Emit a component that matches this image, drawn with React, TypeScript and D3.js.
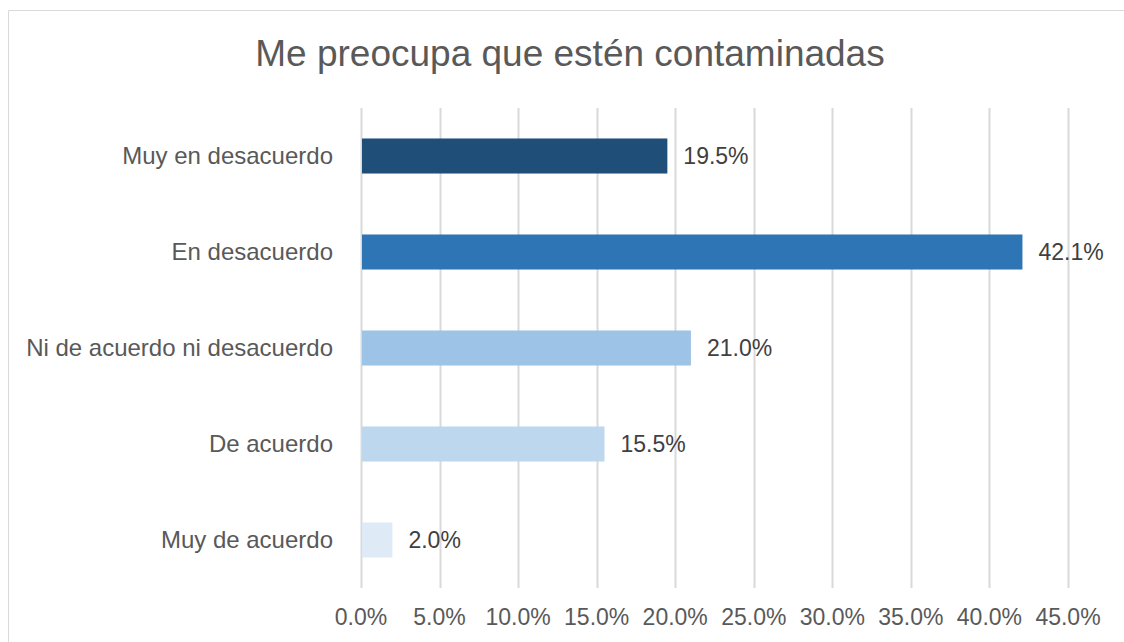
import { useEffect, useRef } from "react";
import * as d3 from "d3";

const title = "Me preocupa que estén contaminadas";
const categories = [
  "Muy en desacuerdo",
  "En desacuerdo",
  "Ni de acuerdo ni desacuerdo",
  "De acuerdo",
  "Muy de acuerdo",
];
const values = [19.5, 42.1, 21.0, 15.5, 2.0];
const barColors = ["#1F4E79", "#2E75B6", "#9DC3E6", "#BDD7EE", "#DEEBF7"];
const xTicks = [0, 5, 10, 15, 20, 25, 30, 35, 40, 45];

const App = () => {
  const svgRef = useRef<SVGSVGElement>(null);

  useEffect(() => {
    const svg = d3.select(svgRef.current);
    svg.selectAll("*").remove();

    const width = 1124;
    const height = 642;
    const margin = { top: 108, left: 361, right: 56, bottom: 54 };
    const font = "'Liberation Sans', Arial, sans-serif";

    svg.attr("width", width).attr("height", height);

    svg
      .append("rect")
      .attr("width", width)
      .attr("height", height)
      .attr("fill", "#fff");

    // chart border: only top and left edges are inside the crop
    svg
      .append("path")
      .attr("d", `M8.5,${height}V10.5H${width}`)
      .attr("fill", "none")
      .attr("stroke", "#d9d9d9")
      .attr("stroke-width", 1);

    const x = d3
      .scaleLinear()
      .domain([0, 45])
      .range([margin.left, width - margin.right]);

    const y = d3
      .scaleBand()
      .domain(categories)
      .range([margin.top, height - margin.bottom])
      .paddingInner(0.635)
      .paddingOuter(0.3175);

    svg
      .append("g")
      .selectAll("line")
      .data(xTicks)
      .enter()
      .append("line")
      .attr("x1", (d) => Math.round(x(d)) + 0.5)
      .attr("x2", (d) => Math.round(x(d)) + 0.5)
      .attr("y1", margin.top)
      .attr("y2", height - margin.bottom)
      .attr("stroke", "#d9d9d9")
      .attr("stroke-width", 2);

    svg
      .append("g")
      .selectAll("rect")
      .data(values)
      .enter()
      .append("rect")
      .attr("x", x(0) + 1)
      .attr("y", (d, i) => y(categories[i])!)
      .attr("width", (d) => x(d) - x(0) - 1)
      .attr("height", y.bandwidth())
      .attr("fill", (d, i) => barColors[i]);

    svg
      .append("g")
      .selectAll("text")
      .data(values)
      .enter()
      .append("text")
      .attr("x", (d) => x(d) + 16)
      .attr("y", (d, i) => y(categories[i])! + y.bandwidth() / 2)
      .attr("dy", "0.35em")
      .attr("font-family", font)
      .attr("font-size", 23)
      .attr("fill", "#404040")
      .text((d) => d.toFixed(1) + "%");

    svg
      .append("g")
      .selectAll("text")
      .data(categories)
      .enter()
      .append("text")
      .attr("x", margin.left - 28)
      .attr("y", (d) => y(d)! + y.bandwidth() / 2)
      .attr("dy", "0.35em")
      .attr("text-anchor", "end")
      .attr("font-family", font)
      .attr("font-size", 24)
      .attr("fill", "#595959")
      .text((d) => d);

    svg
      .append("g")
      .selectAll("text")
      .data(xTicks)
      .enter()
      .append("text")
      .attr("x", (d) => x(d))
      .attr("y", 617)
      .attr("dy", "0.35em")
      .attr("text-anchor", "middle")
      .attr("font-family", font)
      .attr("font-size", 23)
      .attr("fill", "#595959")
      .text((d) => d.toFixed(1) + "%");

    svg
      .append("text")
      .attr("x", 570)
      .attr("y", 53)
      .attr("dy", "0.35em")
      .attr("text-anchor", "middle")
      .attr("font-family", font)
      .attr("font-size", 37)
      .attr("fill", "#595959")
      .text(title);
  }, []);

  return (
    <svg
      ref={svgRef}
      style={{ position: "absolute", left: 0, top: 0, display: "block" }}
    ></svg>
  );
};

export default App;
